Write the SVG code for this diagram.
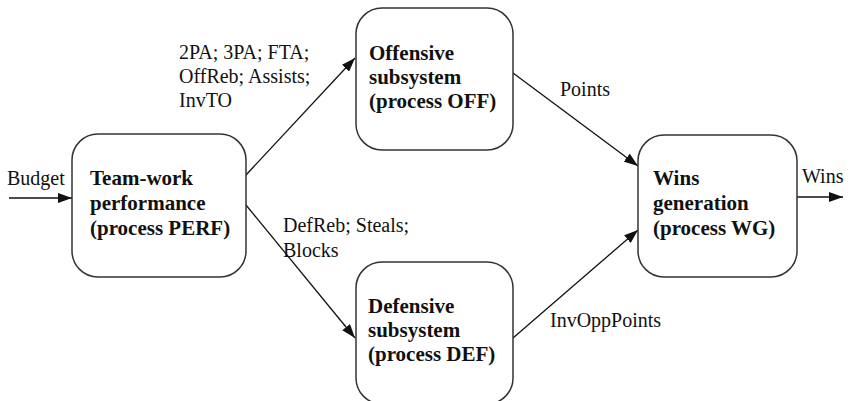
<svg xmlns="http://www.w3.org/2000/svg" width="850" height="401" viewBox="0 0 850 401">
<defs>
<style>
.box{fill:#fff;stroke:#333;stroke-width:1.5}
.t{font-family:"Liberation Serif","Times New Roman",serif;font-size:20px;fill:#111}
.b{font-weight:bold;font-size:21px}
.c{stroke:#111;stroke-width:1.3;fill:none;marker-end:url(#ah)}
</style>
<marker id="ah" viewBox="0 0 14 10" refX="14" refY="5" markerWidth="14" markerHeight="10" markerUnits="userSpaceOnUse" orient="auto">
<path d="M0,0 L14,5 L0,10 z" fill="#111"/>
</marker>
</defs>
<rect width="850" height="401" fill="#fff"/>
<g id="connectors">
<line class="c" x1="9" y1="198" x2="72" y2="198"/>
<line class="c" x1="246" y1="175" x2="355" y2="58"/>
<line class="c" x1="246" y1="205" x2="355" y2="338"/>
<line class="c" x1="513" y1="73" x2="638" y2="166"/>
<line class="c" x1="513" y1="338" x2="638" y2="230"/>
<line class="c" x1="797" y1="197" x2="843" y2="197"/>
<text class="t" x="7" y="185">Budget</text>
<text class="t" x="179" y="59">2PA; 3PA; FTA;</text>
<text class="t" x="179" y="83">OffReb; Assists;</text>
<text class="t" x="179" y="107">InvTO</text>
<text class="t" x="283" y="232">DefReb; Steals;</text>
<text class="t" x="283" y="257">Blocks</text>
<text class="t" x="560" y="96">Points</text>
<text class="t" x="550" y="327">InvOppPoints</text>
<text class="t" x="802" y="183">Wins</text>
</g>
<g id="perf">
<rect class="box" x="72" y="134" width="174" height="143" rx="26"/>
<text class="t b" x="90" y="185">Team-work</text>
<text class="t b" x="90" y="210">performance</text>
<text class="t b" x="90" y="235">(process PERF)</text>
</g>
<g id="off">
<rect class="box" x="356" y="8" width="157" height="142" rx="26"/>
<text class="t b" x="369" y="60">Offensive</text>
<text class="t b" x="369" y="84">subsystem</text>
<text class="t b" x="369" y="108">(process OFF)</text>
</g>
<g id="def">
<rect class="box" x="356" y="262" width="157" height="142" rx="26"/>
<text class="t b" x="368" y="313">Defensive</text>
<text class="t b" x="368" y="337">subsystem</text>
<text class="t b" x="368" y="361">(process DEF)</text>
</g>
<g id="wg">
<rect class="box" x="638" y="135" width="159" height="142" rx="26"/>
<text class="t b" x="653" y="185">Wins</text>
<text class="t b" x="653" y="210">generation</text>
<text class="t b" x="653" y="235">(process WG)</text>
</g>
</svg>
